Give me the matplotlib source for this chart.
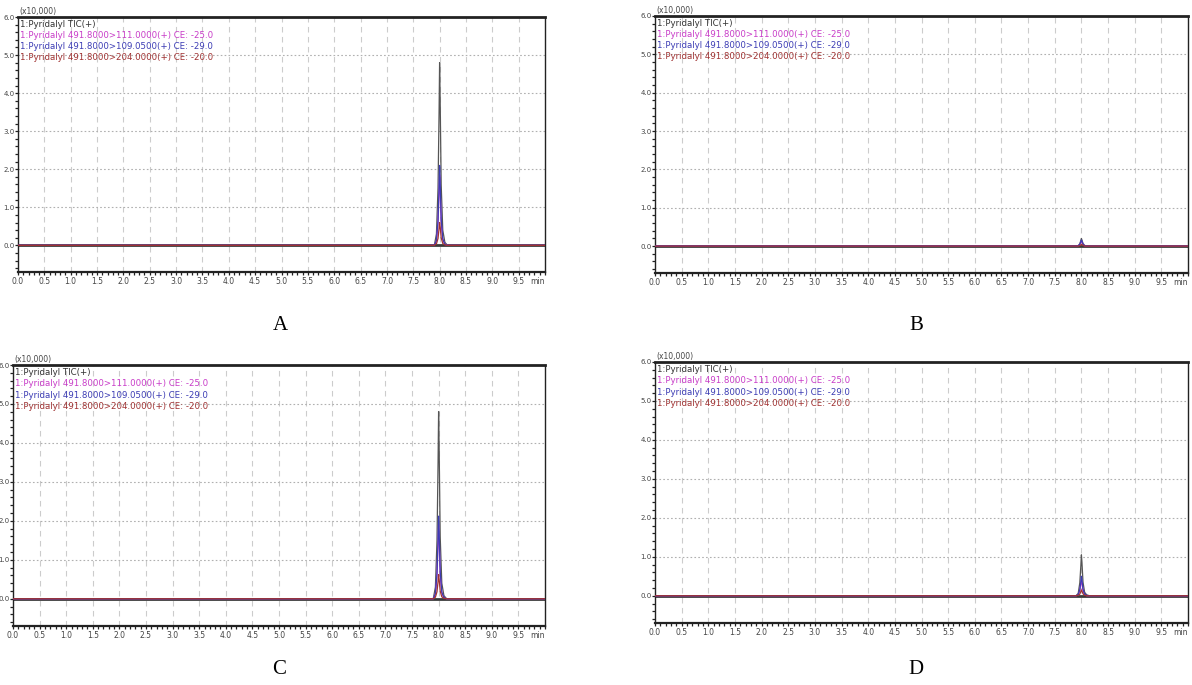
import numpy as np
import matplotlib.pyplot as plt
from matplotlib.ticker import MultipleLocator, FixedLocator

# tiempos de retencion (min) y alturas (x10,000) de cada traza
rt = [0.0, 7.90, 7.94, 7.97, 7.99, 8.00, 8.01, 8.03, 8.06, 8.10, 8.15, 10.0]

tic_a = [0, 0, 0.30, 1.50, 3.50, 4.80, 3.90, 1.60, 0.40, 0.08, 0, 0]
m111_a = [0, 0, 0.12, 0.60, 1.40, 1.85, 1.50, 0.60, 0.15, 0.03, 0, 0]
m109_a = [0, 0, 0.13, 0.65, 1.55, 2.10, 1.70, 0.70, 0.17, 0.03, 0, 0]
m204_a = [0, 0, 0.04, 0.18, 0.45, 0.60, 0.50, 0.20, 0.05, 0.01, 0, 0]

tic_b = [0, 0, 0.01, 0.06, 0.15, 0.20, 0.16, 0.07, 0.02, 0, 0, 0]
m111_b = [0, 0, 0.01, 0.04, 0.10, 0.14, 0.11, 0.05, 0.01, 0, 0, 0]
m109_b = [0, 0, 0.01, 0.05, 0.12, 0.16, 0.13, 0.05, 0.01, 0, 0, 0]
m204_b = [0, 0, 0, 0.01, 0.03, 0.05, 0.04, 0.02, 0, 0, 0, 0]

tic_c = [0, 0, 0.30, 1.50, 3.50, 4.80, 3.90, 1.60, 0.40, 0.08, 0, 0]
m111_c = [0, 0, 0.12, 0.62, 1.45, 1.90, 1.55, 0.62, 0.15, 0.03, 0, 0]
m109_c = [0, 0, 0.13, 0.65, 1.55, 2.12, 1.72, 0.70, 0.17, 0.03, 0, 0]
m204_c = [0, 0, 0.04, 0.18, 0.45, 0.62, 0.50, 0.20, 0.05, 0.01, 0, 0]

tic_d = [0, 0, 0.06, 0.33, 0.78, 1.05, 0.86, 0.35, 0.09, 0.02, 0, 0]
m111_d = [0, 0, 0.02, 0.13, 0.30, 0.40, 0.33, 0.13, 0.03, 0, 0, 0]
m109_d = [0, 0, 0.03, 0.16, 0.37, 0.50, 0.41, 0.17, 0.04, 0.01, 0, 0]
m204_d = [0, 0, 0.01, 0.04, 0.11, 0.15, 0.12, 0.05, 0.01, 0, 0, 0]

etiquetas = ["1:Pyridalyl TIC(+)",
             "1:Pyridalyl 491.8000>111.0000(+) CE: -25.0",
             "1:Pyridalyl 491.8000>109.0500(+) CE: -29.0",
             "1:Pyridalyl 491.8000>204.0000(+) CE: -20.0"]
colores = ["#555555", "#c83cc8", "#3c3cb4", "#a03232"]

# letra, caja en pixeles (izq, der, arriba, abajo), posicion de la letra, trazas
paneles = [
    ("A", (18, 545, 17, 272), (280, 325), [tic_a, m111_a, m109_a, m204_a]),
    ("B", (655, 1188, 16, 273), (916, 325), [tic_b, m111_b, m109_b, m204_b]),
    ("C", (13, 545, 365, 626), (279, 669), [tic_c, m111_c, m109_c, m204_c]),
    ("D", (655, 1188, 362, 623), (916, 669), [tic_d, m111_d, m109_d, m204_d]),
]

fuente_estrecha = ["Liberation Sans Narrow", "DejaVu Sans"]

W, H = 1192, 685
fig = plt.figure(figsize=(W / 100, H / 100), dpi=100)

for letra, (x0, x1, y0, y1), (lx, ly), trazas in paneles:
    ax = fig.add_axes([x0 / W, 1 - y1 / H, (x1 - x0) / W, (y1 - y0) / H])
    ax.set_xlim(0, 10)
    ax.set_ylim(-0.7, 6.0)

    for xv in np.arange(0.5, 10, 0.5):
        ax.axvline(xv, color="#cccccc", lw=0.8, ls=(0, (5, 4)), zorder=0)
    for yv in [1, 2, 3, 4, 5]:
        ax.axhline(yv, color="#b0b0b0", lw=0.8, ls=(0, (1.5, 2)), zorder=0)

    ax.axhline(0, color="#3a3a3a", lw=2.0, zorder=1)
    # TIC al fondo, luego las transiciones
    for i in [0, 2, 1, 3]:
        ax.plot(rt, trazas[i], color=colores[i], lw=0.9, zorder=2 + i)

    ax.xaxis.set_major_locator(FixedLocator(np.arange(0, 10.01, 0.5)))
    ax.xaxis.set_minor_locator(MultipleLocator(0.1))
    xl = ["%.1f" % v for v in np.arange(0, 9.51, 0.5)] + ["min"]
    ax.set_xticklabels(xl)
    ax.yaxis.set_major_locator(FixedLocator([0, 1, 2, 3, 4, 5, 6]))
    ax.yaxis.set_minor_locator(MultipleLocator(0.2))
    ax.set_yticklabels(["%.1f" % v for v in range(7)])

    ax.tick_params(axis="x", which="major", labelsize=5.5, length=2.5,
                   width=0.9, color="#222222", pad=1, labelcolor="#444444")
    ax.tick_params(axis="y", which="major", labelsize=5, length=2,
                   width=0.9, color="#222222", pad=0.3, labelcolor="#444444")
    ax.tick_params(axis="both", which="minor", length=2, width=0.9,
                   color="#222222")
    for t in ax.get_xticklabels() + ax.get_yticklabels():
        t.set_family(fuente_estrecha)
    ax.get_xticklabels()[-1].set_ha("right")

    ax.spines["top"].set_linewidth(2.0)
    ax.spines["bottom"].set_linewidth(1.6)
    for s in ["left", "right"]:
        ax.spines[s].set_linewidth(1.0)
    for s in ax.spines.values():
        s.set_color("#222222")

    ax.text(0.002, 1.005, "(x10,000)", transform=ax.transAxes, fontsize=5.5,
            color="#444444", va="bottom", ha="left", family=fuente_estrecha)
    for i, et in enumerate(etiquetas):
        ax.text(0.004, 0.99 - i * 0.044, et, transform=ax.transAxes,
                fontsize=6.2, color=colores[i] if i else "#333333",
                va="top", ha="left", family=fuente_estrecha)

    fig.text(lx / W, 1 - ly / H, letra, fontsize=15,
             family="Liberation Serif", ha="center", va="center")

fig.savefig("out.png", dpi=100)
